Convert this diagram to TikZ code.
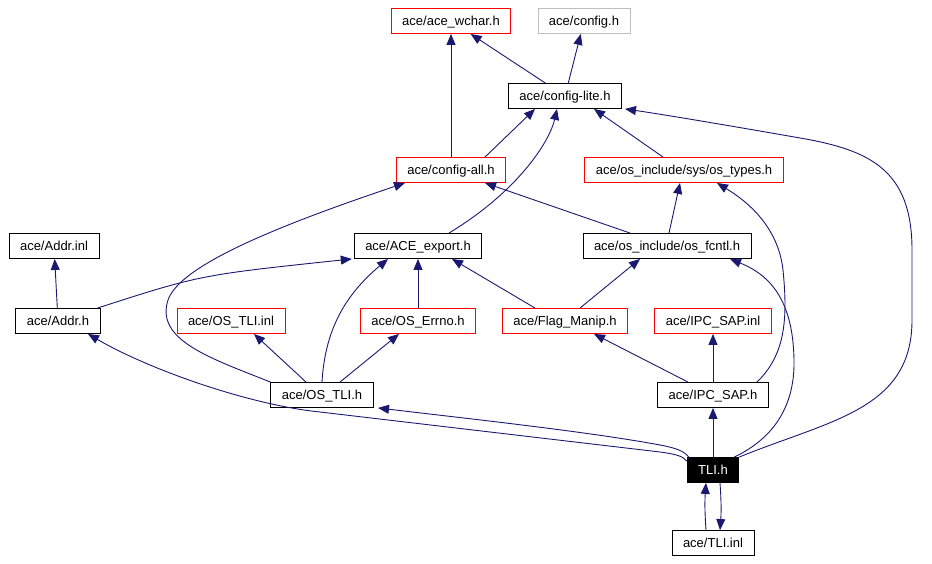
\documentclass[tikz,border=0pt]{standalone}
\usepackage{fontspec}
\setmainfont{Liberation Sans}
\usepackage{tikz}
\usetikzlibrary{arrows.meta}
\definecolor{edgeblue}{RGB}{25,25,112}
\definecolor{boxgray}{RGB}{191,191,191}

\begin{document}
\begin{tikzpicture}[x=1pt,y=-1pt,
  hdr/.style={draw=black,line width=0.9pt,fill=white,inner xsep=11pt,inner ysep=0pt,
    minimum height=25pt,text height=9.5pt,text depth=0pt,font=\fontsize{13}{15}\selectfont},
  redhdr/.style={hdr,draw=red},
  grayhdr/.style={hdr,draw=boxgray},
  curhdr/.style={hdr,fill=black,text=white},
  edge/.style={draw=edgeblue,line width=0.9pt,-{Triangle[length=11pt,width=9pt]}}]
\useasboundingbox (0,0) rectangle (932,564);

\node[redhdr] (wchar) at (451,21) {ace/ace\_wchar.h};
\node[grayhdr] (config) at (584,21) {ace/config.h};
\node[hdr] (configlite) at (565,96) {ace/config-lite.h};
\node[redhdr] (configall) at (451,170) {ace/config-all.h};
\node[redhdr] (ostypes) at (684,170) {ace/os\_include/sys/os\_types.h};
\node[hdr] (addrinl) at (54,246) {ace/Addr.inl};
\node[hdr] (aceexport) at (418,246) {ace/ACE\_export.h};
\node[hdr] (osfcntl) at (667,246) {ace/os\_include/os\_fcntl.h};
\node[hdr] (addr) at (58,321) {ace/Addr.h};
\node[redhdr] (ostliinl) at (231,321) {ace/OS\_TLI.inl};
\node[redhdr] (oserrno) at (418,321) {ace/OS\_Errno.h};
\node[redhdr] (flagmanip) at (565,321) {ace/Flag\_Manip.h};
\node[redhdr] (ipcsapinl) at (713,321) {ace/IPC\_SAP.inl};
\node[hdr] (ostli) at (322,395) {ace/OS\_TLI.h};
\node[hdr] (ipcsap) at (713,395) {ace/IPC\_SAP.h};
\node[curhdr] (tli) at (713,470) {TLI.h};
\node[hdr] (tliinl) at (713,543) {ace/TLI.inl};

% top rows
\draw[edge] (configall) -- (wchar);
\draw[edge] (configlite) -- (wchar);
\draw[edge] (configlite) -- (config);
\draw[edge] ([xshift=34pt]configall.north) -- ([xshift=-30pt]configlite.south);
\draw[edge] ([xshift=31pt]aceexport.north) .. controls (520,190) and (550,140) .. ([xshift=-8pt]configlite.south);
\draw[edge] ([xshift=-21pt]ostypes.north) -- ([xshift=29pt]configlite.south);
\draw[edge] (tli.north east) .. controls (830,420) and (912,410) .. (912,320) -- (912,250)
  .. controls (912,170) and (870,150) .. (800,138) .. controls (720,124) and (660,114) .. ([xshift=3pt]configlite.south east);
\draw[edge] (ostli.north west) .. controls (210,358) and (155,340) .. (168,300)
  .. controls (180,265) and (280,225) .. ([xshift=-46pt]configall.south);
\draw[edge] ([xshift=-37pt]osfcntl.north) -- ([xshift=34pt]configall.south);
\draw[edge] ([xshift=2pt]osfcntl.north) -- ([xshift=-4pt]ostypes.south);
\draw[edge] ([xshift=44pt]ipcsap.north) .. controls (785,355) and (788,320) .. (783,270)
  .. controls (778,225) and (745,200) .. ([xshift=33pt]ostypes.south);

% middle rows
\draw[edge] (addr) -- (addrinl);
\draw[edge] ([xshift=-3pt]addr.north east) .. controls (200,275) .. ([xshift=-2pt]aceexport.south west);
\draw[edge] (ostli.north) .. controls (325,330) and (345,295) .. ([xshift=-30pt]aceexport.south);
\draw[edge] (oserrno) -- (aceexport);
\draw[edge] ([xshift=-30pt]flagmanip.north) -- ([xshift=34pt]aceexport.south);
\draw[edge] ([xshift=15pt]flagmanip.north) -- ([xshift=-27pt]osfcntl.south);
\draw[edge] ([xshift=-5pt]tli.north east) .. controls (770,440) and (795,410) .. (794,360)
  .. controls (793,300) and (770,275) .. ([xshift=63pt]osfcntl.south);
\draw[edge] ([xshift=-16pt]ostli.north) -- ([xshift=23pt]ostliinl.south);
\draw[edge] ([xshift=18pt]ostli.north) -- ([xshift=-19pt]oserrno.south);
\draw[edge] ([xshift=-25pt]ipcsap.north) -- ([xshift=29pt]flagmanip.south);
\draw[edge] (ipcsap) -- (ipcsapinl);

% bottom rows
\draw[edge] ([yshift=-4pt]tli.north west) .. controls (683,456) and (675,454) .. (660,452) -- (320,412)
  .. controls (250,405) and (150,370) .. ([xshift=30pt]addr.south);
\draw[edge] ([xshift=2pt]tli.north west) .. controls (684,451) and (676,448) .. (660,445)
  .. controls (590,432) and (480,420) .. ([xshift=56pt]ostli.south);
\draw[edge] (tli) -- (ipcsap);
\draw[edge] ([xshift=-7pt]tliinl.north) to[bend left=4] ([xshift=-7pt]tli.south);
\draw[edge] ([xshift=7pt]tli.south) to[bend left=4] ([xshift=7pt]tliinl.north);
\end{tikzpicture}
\end{document}
